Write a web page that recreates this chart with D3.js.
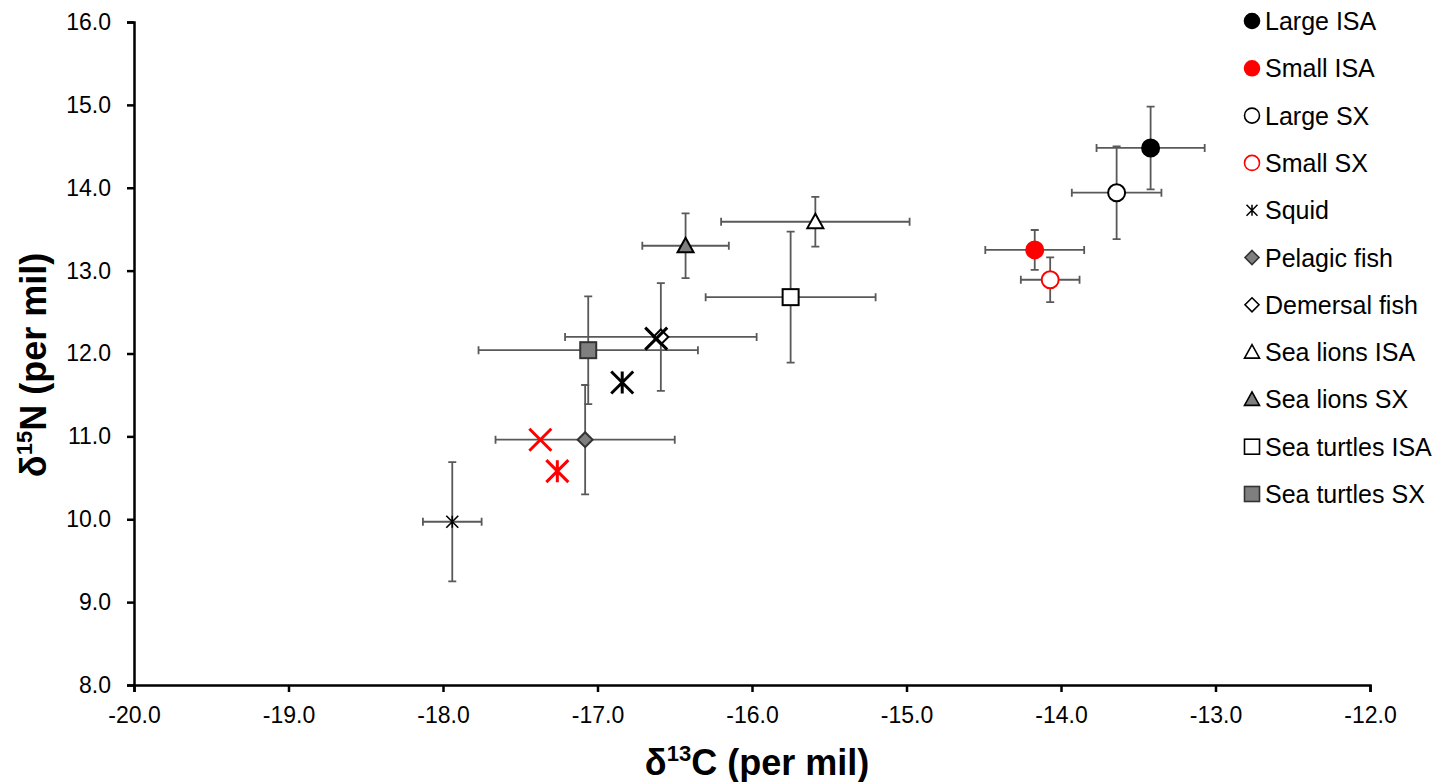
<!DOCTYPE html>
<html><head><meta charset="utf-8">
<script src="https://cdn.jsdelivr.net/npm/d3@7"></script>
<style>body{margin:0;background:#fff;} svg{display:block;font-family:"Liberation Sans",Arial,sans-serif;}</style>
</head><body>
<svg id="chart" width="1451" height="782"></svg>
<script>
// ---- data ----
const groups = ["Large ISA","Small ISA","Large SX","Small SX","Squid","Pelagic fish","Demersal fish","Sea lions ISA","Sea lions SX","Sea turtles ISA","Sea turtles SX"];
const d13C  = [-13.42,-14.17,-13.64,-14.07,-17.94,-17.08,-16.59,-15.59,-16.43,-15.75,-17.06];
const d15N  = [ 14.48, 13.25, 13.94, 12.89,  9.97, 10.96, 12.20, 13.59, 13.30, 12.68, 12.04];
const sdC   = [  0.35,  0.32,  0.29,  0.19,  0.19,  0.58,  0.62,  0.61,  0.28,  0.55,  0.71];
const sdN   = [  0.50,  0.24,  0.56,  0.27,  0.72,  0.66,  0.65,  0.30,  0.39,  0.79,  0.65];
const shapes = ["circle","circle","circle","circle","star","diamond","diamond","triangle","triangle","square","square"];
const fills  = ["#000","#ff0000","#fff","#fff","none","#7f7f7f","#fff","#fff","#7f7f7f","#fff","#7f7f7f"];
const strokes= ["#000","#ff0000","#000","#ff0000","#000","#333","#000","#000","#000","#000","#333"];
// additional unlabeled points (no error bars)
const extraC = [-16.62,-16.84,-17.37,-17.26];
const extraN = [ 12.18, 11.65, 10.96, 10.58];
const extraShape = ["x","star","x","star"];
const extraColor = ["#000","#000","#ff0000","#ff0000"];
const xTicks = [-20,-19,-18,-17,-16,-15,-14,-13,-12];
const yTicks = [8,9,10,11,12,13,14,15,16];

const svg = d3.select("#chart");
const x = d3.scaleLinear().domain([-20,-12]).range([134,1370]);
const y = d3.scaleLinear().domain([8,16]).range([685,22]);
const fmt = d => d.toFixed(1);

// axes
const xAxis = d3.axisBottom(x).tickValues(xTicks).tickFormat(fmt).tickSizeInner(7).tickSizeOuter(7).tickPadding(10);
const yAxis = d3.axisLeft(y).tickValues(yTicks).tickFormat(fmt).tickSizeInner(7).tickSizeOuter(7).tickPadding(16);
const gx = svg.append("g").attr("transform","translate(0,685)").call(xAxis);
const gy = svg.append("g").attr("transform","translate(134,0)").call(yAxis);
[gx,gy].forEach(g=>{
  g.selectAll("path,line").attr("stroke","#000").attr("stroke-width",2.5);
  g.selectAll("text").attr("font-size",23).attr("fill","#000").attr("font-family","'Liberation Sans',Arial,sans-serif");
});
gx.selectAll("text").attr("dy","0.9em");

// axis titles
const xt = svg.append("text").attr("x",757).attr("y",775).attr("text-anchor","middle")
  .attr("font-size",36).attr("font-weight","bold");
xt.append("tspan").text("δ");
xt.append("tspan").attr("font-size",22).attr("dy",-14).text("13");
xt.append("tspan").attr("dy",14).text("C (per mil)");
const yt = svg.append("text").attr("transform","translate(46,365) rotate(-90)").attr("text-anchor","middle")
  .attr("font-size",36).attr("font-weight","bold");
yt.append("tspan").text("δ");
yt.append("tspan").attr("font-size",22).attr("dy",-14).text("15");
yt.append("tspan").attr("dy",14).text("N (per mil)");

// marker drawing
function drawMarker(g, shape, fill, stroke, s, sw){
  if(shape==="circle"){
    g.append("circle").attr("r",s/2).attr("fill",fill).attr("stroke",stroke).attr("stroke-width",sw);
  } else if(shape==="square"){
    g.append("rect").attr("x",-s/2).attr("y",-s/2).attr("width",s).attr("height",s).attr("fill",fill).attr("stroke",stroke).attr("stroke-width",sw);
  } else if(shape==="diamond"){
    const h=s/2;
    g.append("path").attr("d",`M0,${-h}L${h},0L0,${h}L${-h},0Z`).attr("fill",fill).attr("stroke",stroke).attr("stroke-width",sw);
  } else if(shape==="triangle"){
    const h=s/2;
    g.append("path").attr("d",`M0,${-h}L${h},${h*0.8}L${-h},${h*0.8}Z`).attr("fill",fill).attr("stroke",stroke).attr("stroke-width",sw).attr("stroke-linejoin","miter");
  } else if(shape==="x"||shape==="star"){
    const h=s/2;
    let d=`M${-h},${-h}L${h},${h}M${-h},${h}L${h},${-h}`;
    if(shape==="star") d+=`M0,${-h}L0,${h}`;
    g.append("path").attr("d",d).attr("fill","none").attr("stroke",stroke).attr("stroke-width",sw);
  }
}

// error bars
const eb = svg.append("g").attr("stroke","#595959").attr("stroke-width",1.8).attr("fill","none");
const cap = 4;
groups.forEach((gname,i)=>{
  const cx=x(d13C[i]), cy=y(d15N[i]);
  const x0=x(d13C[i]-sdC[i]), x1=x(d13C[i]+sdC[i]);
  const y0=y(d15N[i]+sdN[i]), y1=y(d15N[i]-sdN[i]);
  eb.append("path").attr("d",
    `M${x0},${cy}H${x1}M${x0},${cy-cap}V${cy+cap}M${x1},${cy-cap}V${cy+cap}`+
    `M${cx},${y0}V${y1}M${cx-cap},${y0}H${cx+cap}M${cx-cap},${y1}H${cx+cap}`);
});

// markers
const mk = svg.append("g");
groups.forEach((gname,i)=>{
  const g = mk.append("g").attr("transform",`translate(${x(d13C[i])},${y(d15N[i])})`);
  const s = shapes[i]==="circle"?17: shapes[i]==="star"?12: shapes[i]==="diamond"?15: 16;
  const sw = shapes[i]==="star"?1.6: 2;
  drawMarker(g, shapes[i], fills[i], strokes[i], s, sw);
});
extraC.forEach((c,i)=>{
  const g = mk.append("g").attr("transform",`translate(${x(c)},${y(extraN[i])})`);
  drawMarker(g, extraShape[i], "none", extraColor[i], 22, 3);
});

// legend
const lg = svg.append("g");
groups.forEach((gname,i)=>{
  const ry = 21 + i*47.3;
  const g = lg.append("g").attr("transform",`translate(1252,${ry})`);
  const s = shapes[i]==="circle"?15: shapes[i]==="star"?11: shapes[i]==="diamond"?14: 15;
  const sw = shapes[i]==="star"?1.5: 1.6;
  drawMarker(g, shapes[i], fills[i], strokes[i], s, sw);
  lg.append("text").attr("x",1265).attr("y",ry).attr("dy","0.36em").attr("font-size",25).attr("fill","#000").text(gname);
});
</script>
</body></html>
